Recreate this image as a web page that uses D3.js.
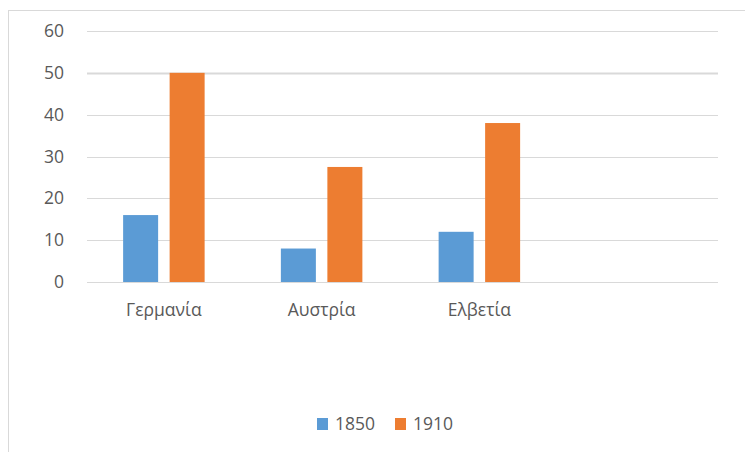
<!DOCTYPE html>
<html>
<head>
<meta charset="utf-8">
<script src="https://cdn.jsdelivr.net/npm/d3@7"></script>
<style>
  html, body { margin: 0; padding: 0; background: #ffffff; }
  svg { display: block; }
  text { font-family: "Open Sans", "Noto Sans", sans-serif; fill: #595959; }
</style>
</head>
<body>
<svg id="chart" width="745" height="452"></svg>
<script>
// Chart data
const categories = ["Γερμανία", "Αυστρία", "Ελβετία", ""];
const seriesNames = ["1850", "1910"];
const values1850 = [16, 8, 12, null];
const values1910 = [50, 27.5, 38, null];
const yTicks = [0, 10, 20, 30, 40, 50, 60];
const colors = ["#5b9bd5", "#ed7d31"];

const svg = d3.select("#chart");
const W = 745, H = 452;
const FONT = "'Open Sans', 'Noto Sans', sans-serif";
const FS = 17.5;

// Outer frame of the chart area
svg.append("rect")
  .attr("x", 8.5).attr("y", 10.5)
  .attr("width", W + 10).attr("height", H + 10)
  .attr("fill", "#ffffff")
  .attr("stroke", "#d9d9d9").attr("stroke-width", 1);

const plot = { left: 87, right: 718, top: 31, bottom: 282 };

const x = d3.scaleBand()
  .domain(d3.range(categories.length))
  .range([plot.left, plot.right]);

const y = d3.scaleLinear()
  .domain([0, 60])
  .range([plot.bottom, plot.top]);

// Bar width and gap between the two bars of a cluster
const barW = 35, barGap = 11.5;
const clusterW = 2 * barW + barGap;

// Gridlines
svg.append("g")
  .selectAll("line")
  .data(yTicks)
  .join("line")
  .attr("x1", plot.left).attr("x2", plot.right)
  .attr("y1", d => Math.round(y(d)) + 0.5)
  .attr("y2", d => Math.round(y(d)) + 0.5)
  .attr("stroke", "#d9d9d9")
  .attr("stroke-width", d => d === 50 ? 2 : 1);

// Y axis labels
const yAxis = d3.axisLeft(y).tickValues(yTicks).tickSize(0).tickPadding(0);
const yg = svg.append("g").attr("transform", `translate(${64},0)`).call(yAxis);
yg.select(".domain").remove();
yg.selectAll("text")
  .attr("font-size", FS)
  .attr("fill", "#595959")
  .style("font-family", FONT);

// Bars
const series = [values1850, values1910];
series.forEach((vals, si) => {
  svg.append("g")
    .selectAll("rect")
    .data(vals.map((v, i) => ({ v, i })).filter(d => d.v != null))
    .join("rect")
    .attr("x", d => x(d.i) + x.bandwidth() / 2 - clusterW / 2 + si * (barW + barGap) - 2)
    .attr("width", barW)
    .attr("y", d => y(d.v))
    .attr("height", d => y(0) - y(d.v))
    .attr("fill", colors[si]);
});

// Category labels
const xAxis = d3.axisBottom(x).tickFormat(i => categories[i]).tickSize(0).tickPadding(0);
const xg = svg.append("g").attr("transform", `translate(-2,${plot.bottom + 28})`).call(xAxis);
xg.select(".domain").remove();
xg.selectAll("text")
  .attr("dy", "0.32em")
  .attr("font-size", FS)
  .attr("fill", "#595959")
  .style("font-family", FONT);

// Legend
const legend = svg.append("g");
const legendItems = [{ name: seriesNames[0], x: 317 }, { name: seriesNames[1], x: 395 }];
legendItems.forEach((d, i) => {
  legend.append("rect")
    .attr("x", d.x).attr("y", 418)
    .attr("width", 11).attr("height", 12)
    .attr("fill", colors[i]);
  legend.append("text")
    .attr("x", d.x + 18).attr("y", 424)
    .attr("dy", "0.35em")
    .attr("font-size", FS)
    .style("font-family", FONT)
    .text(d.name);
});
</script>
</body>
</html>
